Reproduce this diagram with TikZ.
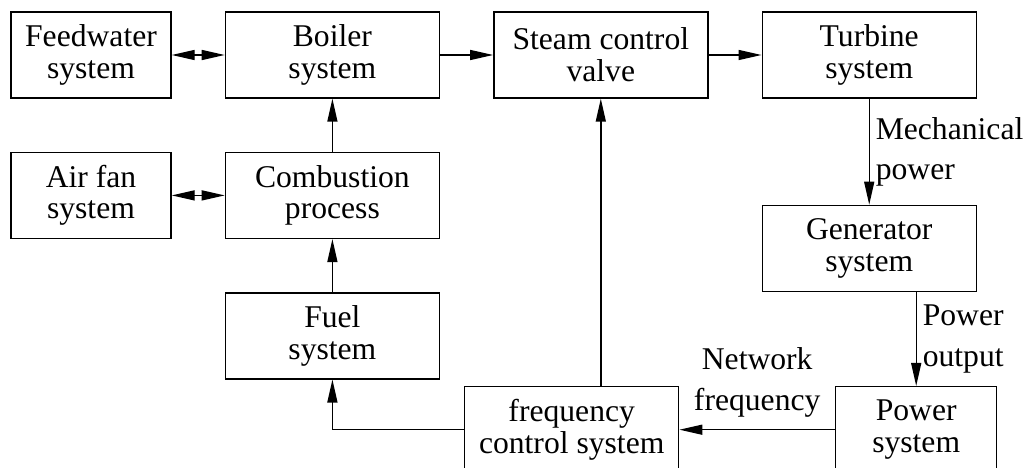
\documentclass[tikz,border=0pt]{standalone}
\usepackage{fontspec}
\setmainfont{Liberation Serif}
\usetikzlibrary{positioning,arrows.meta}

\begin{document}
\begin{tikzpicture}[node distance=1.06cm, >={Triangle[length=0.46cm,width=0.2cm]},
	block/.style={draw, rectangle, line width=0.8pt, minimum width=4.28cm, minimum height=1.72cm, align=center, font=\fontsize{18}{18}\selectfont},
	smallblock/.style={block, minimum width=3.2cm},
	flow/.style={->, line width=0.8pt},
	lbl/.style={align=left, font=\fontsize{18}{23}\selectfont}]
		\useasboundingbox (0,0) rectangle (20.52,-9.36);

		% Nodes
		\node[smallblock] (feed) at (1.82,-1.10) {Feedwater\\system};
		\node[block, right=of feed] (boiler) {Boiler\\system};
		\node[block, right=of boiler] (valve) {Steam control\\valve};
		\node[block, right=of valve] (turbine) {Turbine\\system};
		\node[smallblock, below=of feed] (airfan) {Air fan\\system};
		\node[block, below=of boiler] (comb) {Combustion\\process};
		\node[block, below=of comb] (fuel) {Fuel\\system};
		\node[block, below=2.12cm of turbine] (gen) {Generator\\system};
		\node[smallblock, minimum width=3.22cm, anchor=north west] (power) at (16.70,-7.72) {Power\\system};
		\node[block, anchor=north west] (freq) at (9.28,-7.72) {frequency\\control system};

		% Steam and fuel path
		\draw[flow, <->] (feed) -- (boiler);
		\draw[flow] (boiler) -- (valve);
		\draw[flow] (valve) -- (turbine);
		\draw[flow, <->] (airfan) -- (comb);
		\draw[flow] (comb) -- (boiler);
		\draw[flow] (fuel) -- (comb);

		% Power path (labels on right)
		\draw[flow] (turbine) -- node[lbl, right] {Mechanical\\power} (gen);
		\draw[flow] (gen.south -| power.north) -- node[lbl, right] {Power\\output} (power.north);

		% Frequency feedback
		\draw[flow] (power) -- node[lbl, above, align=center, yshift=0.12cm] {Network\\frequency} (freq);
		\draw[flow] (freq.west) -| (fuel.south);
		\draw[flow] (valve.south |- freq.north) -- (valve.south);
	\end{tikzpicture}
\end{document}
